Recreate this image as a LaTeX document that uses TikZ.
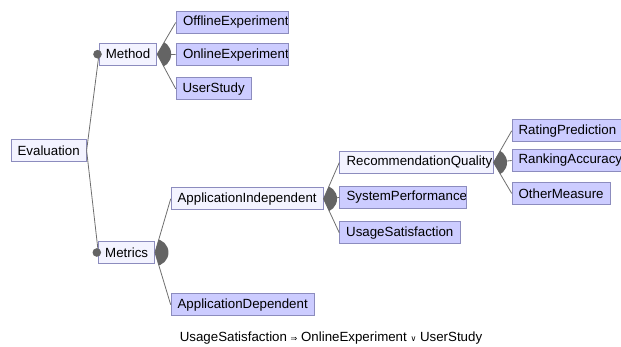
\documentclass[tikz,border=0pt]{standalone}
\usepackage{fontspec}
\setmainfont{Liberation Sans}
\newfontfamily\symbolfont{DejaVu Sans}
\usetikzlibrary{positioning}
\definecolor{concretefill}{HTML}{CCCCFF}
\definecolor{abstractfill}{HTML}{F3F3FF}
\definecolor{boxline}{HTML}{8C8CBE}
\definecolor{linkgray}{HTML}{6E6E6E}
\definecolor{groupgray}{HTML}{646464}
\newcommand\featurefont{\fontsize{13.3}{15}\selectfont}
\newcommand\cutlabel[1]{%
  \clip (path picture bounding box.south west)
        rectangle ([xshift=-1pt]path picture bounding box.north east);
  \node[anchor=west, inner xsep=6.5pt, inner ysep=0pt, font=\featurefont]
        at (path picture bounding box.west) {#1};}

\begin{document}
\begin{tikzpicture}[x=1pt, y=-1pt,
     F/.style = {draw=boxline, line width=0.8pt, minimum height=22pt, inner xsep=6.5pt,
                 inner ysep=0pt, anchor=west, font=\featurefont},
     A/.style = {F, fill=abstractfill},
     C/.style = {F, fill=concretefill},
  link/.style = {draw=linkgray, line width=0.8pt},
  must/.style = {fill=groupgray},
    or/.style = {fill=groupgray}
                    ]
\clip (0,0) rectangle (621,346);

\node (eval)      [A] at (10.7,150.5)  {Evaluation};
\node (method)    [A] at (99,54.2)     {Method};
\node (metrics)   [A] at (98.3,252.5)  {Metrics};

\node (offline)   [C, minimum width=112.6pt, path picture={\cutlabel{OfflineExperiment}}] at (175.7,22.5) {};
\node (online)    [C, minimum width=112.6pt, path picture={\cutlabel{OnlineExperiment}}]  at (175.7,54.6) {};
\node (userstudy) [C] at (175.7,88.8)  {UserStudy};

\node (appind)    [A] at (170.7,198.8) {ApplicationIndependent};
\node (appdep)    [C] at (170.7,304.7) {ApplicationDependent};

\node (recq)      [A, minimum width=153.4pt, path picture={\cutlabel{RecommendationQuality}}] at (339.3,162.5) {};
\node (sysperf)   [C, minimum width=126.4pt, path picture={\cutlabel{SystemPerformance}}]     at (339.3,197.5) {};
\node (usage)     [C] at (339.3,232.8) {UsageSatisfaction};

\node (rating)    [C] at (511.7,130.8) {RatingPrediction};
\node (ranking)   [C] at (511.7,160.5) {RankingAccuracy};
\node (other)     [C] at (511.7,193.4) {OtherMeasure};

\node (rule) at (331,338) [font=\featurefont]
  {UsageSatisfaction {\symbolfont\footnotesize ⇒} OnlineExperiment {\symbolfont\footnotesize ∨} UserStudy};

\draw[link] (eval.east)    edge (method.west)
            (eval.east)    edge (metrics.west)
            (method.east)  edge (offline.west)
            (method.east)  edge (online.west)
            (method.east)  edge (userstudy.west)
            (metrics.east) edge (appind.west)
            (metrics.east) edge (appdep.west)
            (appind.east)  edge (recq.west)
            (appind.east)  edge (sysperf.west)
            (appind.east)  edge (usage.west)
            (recq.east)    edge (rating.west)
            (recq.east)    edge (ranking.west)
            (recq.east)    edge (other.west);

    \begin{scope}
\clip (method.east) -- (offline.west) -- (userstudy.west) -- cycle;
\fill[or] (method.east) circle (14pt);
    \end{scope}
    \begin{scope}
\clip (metrics.east) -- (appind.west) -- (appdep.west) -- cycle;
\fill[or] (metrics.east) circle (13.5pt);
    \end{scope}
    \begin{scope}
\clip (appind.east) -- (recq.west) -- (usage.west) -- cycle;
\fill[or] (appind.east) circle (13.5pt);
    \end{scope}
    \begin{scope}
\clip (recq.east) -- (rating.west) -- (other.west) -- cycle;
\fill[or] (recq.east) circle (13.5pt);
    \end{scope}

\fill[must] ([xshift=-1.5pt]method.west)  circle (4.3pt);
\fill[must] ([xshift=-1.5pt]metrics.west) circle (4.3pt);
\end{tikzpicture}
\end{document}
